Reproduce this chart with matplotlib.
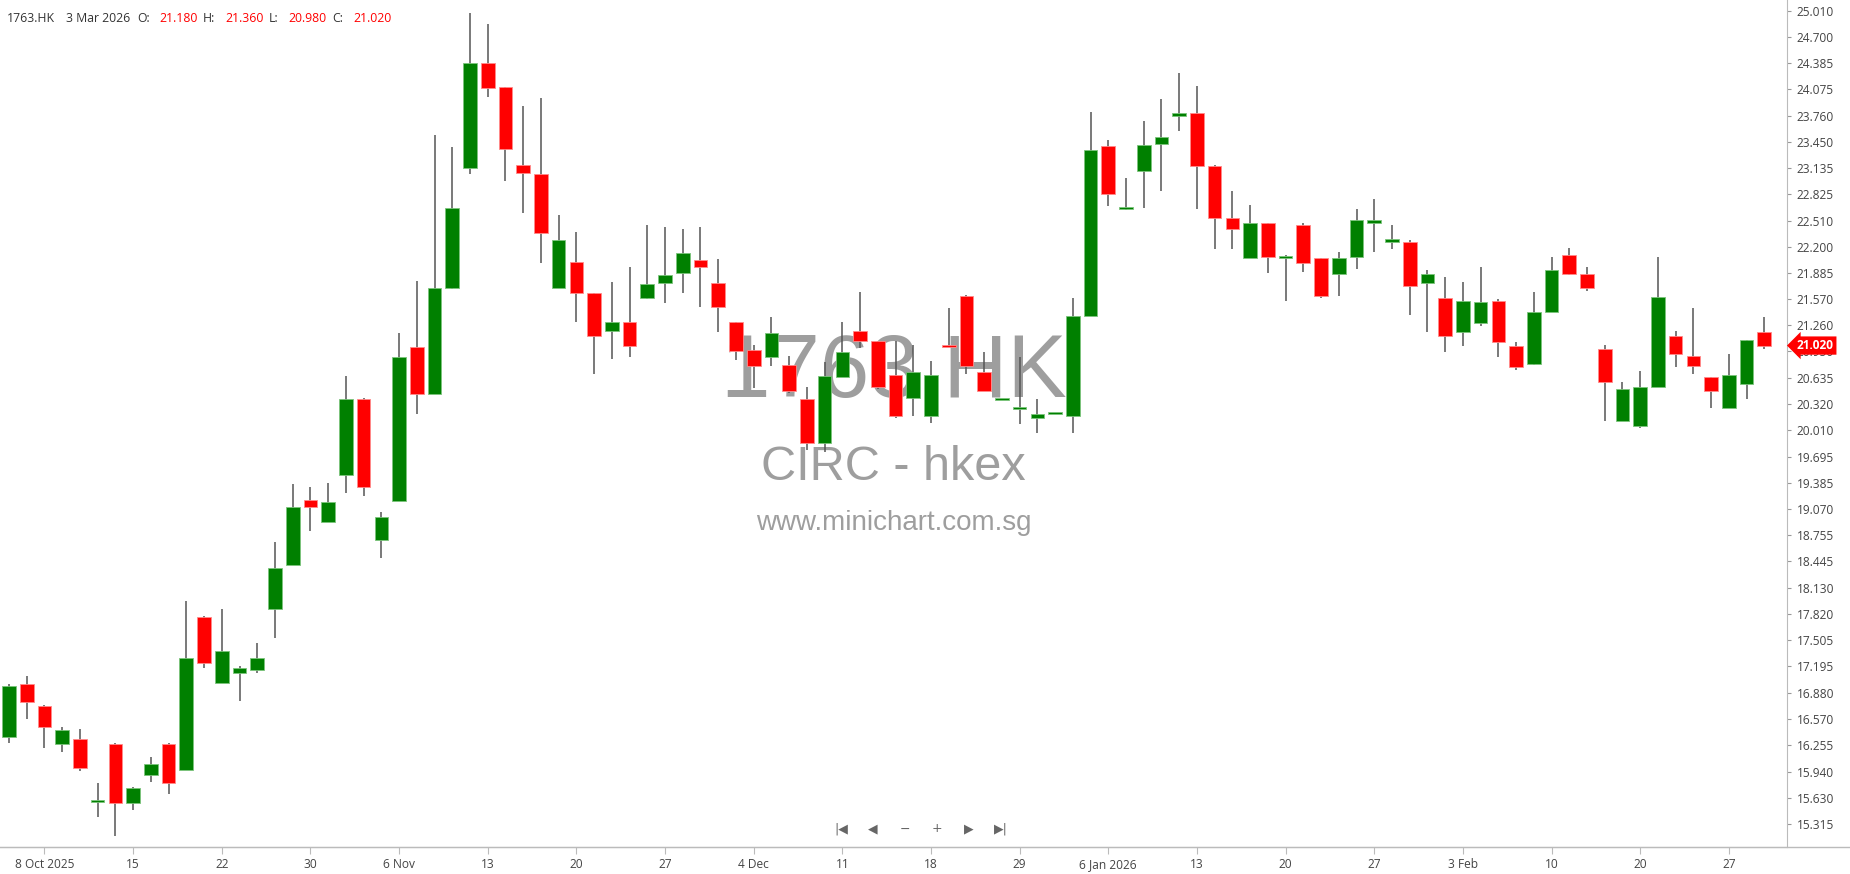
import matplotlib
matplotlib.use("Agg")
import matplotlib.pyplot as plt
from matplotlib.lines import Line2D

# Daily candles for 1763.HK, 3 Oct 2025 - 3 Mar 2026 (index = trading day)
OPEN = [16.355, 16.980, 16.725, 16.264, 16.324, 15.576, 16.264, 15.568, 15.898, 16.264,
        15.958, 17.783, 16.996, 17.119, 17.151, 17.878, 18.399, 19.178, 18.919, 19.473,
        20.379, 18.701, 19.170, 21.003, 20.439, 21.703, 23.134, 24.386, 24.100, 23.177,
        23.069, 21.706, 22.013, 21.643, 21.197, 21.297, 21.584, 21.762, 21.882, 22.040,
        21.770, 21.297, 20.967, 20.887, 20.788, 20.379, 19.861, 20.649, 21.193, 21.078,
        20.669, 20.398, 20.183, 21.009, 21.611, 20.701, 20.370, 20.260, 20.156, 20.200,
        20.183, 21.376, 23.400, 22.645, 23.105, 23.420, 23.761, 23.797, 23.161, 22.538,
        22.061, 22.478, 22.064, 22.458, 22.061, 21.870, 22.072, 22.485, 22.259, 22.251,
        21.762, 21.584, 21.178, 21.285, 21.551, 21.015, 20.796, 21.424, 22.100, 21.873,
        20.975, 20.124, 20.064, 20.529, 21.134, 20.895, 20.641, 20.279, 20.558, 21.180]
HIGH = [16.980, 17.083, 16.730, 16.474, 16.443, 15.807, 16.276, 15.759, 16.117, 16.276,
        17.973, 17.795, 17.875, 17.202, 17.476, 18.674, 19.365, 19.330, 19.377, 20.657,
        20.390, 19.031, 21.166, 21.790, 23.531, 23.384, 24.982, 24.855, 24.100, 23.877,
        23.976, 22.577, 22.371, 21.650, 21.774, 21.953, 22.458, 22.430, 22.414, 22.430,
        22.056, 21.300, 21.027, 21.357, 20.895, 20.522, 20.820, 21.297, 21.655, 21.080,
        21.078, 21.027, 20.836, 21.464, 21.623, 20.940, 20.380, 20.880, 20.379, 20.210,
        21.583, 23.802, 23.471, 23.015, 23.698, 23.960, 24.267, 24.115, 23.170, 22.863,
        22.700, 22.480, 22.100, 22.478, 22.070, 22.132, 22.648, 22.768, 22.458, 22.279,
        21.921, 21.834, 21.774, 21.953, 21.575, 21.059, 21.655, 22.072, 22.180, 21.953,
        21.027, 20.582, 20.720, 22.072, 21.193, 21.464, 20.650, 20.916, 21.090, 21.360]
LOW = [16.276, 16.563, 16.217, 16.176, 15.946, 15.401, 15.174, 15.481, 15.818, 15.668,
       15.958, 17.171, 16.990, 16.784, 17.119, 17.529, 18.399, 18.812, 18.919, 19.258,
       19.229, 18.483, 19.170, 20.200, 20.439, 21.700, 23.062, 23.981, 22.982, 22.597,
       22.001, 21.706, 21.301, 20.677, 20.856, 20.887, 21.580, 21.524, 21.643, 21.483,
       21.185, 20.848, 20.510, 20.780, 20.450, 19.774, 19.754, 20.649, 20.987, 20.500,
       20.152, 20.183, 20.093, 21.000, 20.681, 20.480, 20.370, 20.084, 19.973, 20.200,
       19.973, 21.370, 22.688, 22.640, 22.657, 22.863, 23.582, 22.645, 22.168, 22.168,
       22.060, 21.882, 21.555, 21.901, 21.590, 21.615, 21.929, 22.132, 22.168, 21.384,
       21.185, 20.947, 21.018, 21.257, 20.887, 20.728, 20.790, 21.420, 21.860, 21.674,
       20.124, 20.120, 20.033, 20.520, 20.768, 20.681, 20.279, 20.270, 20.379, 20.980]
CLOSE = [16.963, 16.769, 16.474, 16.439, 15.978, 15.588, 15.568, 15.740, 16.026, 15.807,
         17.290, 17.238, 17.377, 17.171, 17.290, 18.363, 19.091, 19.098, 19.151, 20.379,
         19.333, 18.972, 20.880, 20.439, 21.703, 22.657, 24.386, 24.088, 23.360, 23.078,
         22.359, 22.279, 21.643, 21.138, 21.297, 21.018, 21.758, 21.861, 22.127, 21.960,
         21.483, 20.959, 20.780, 21.173, 20.482, 19.861, 20.657, 20.947, 21.078, 20.529,
         20.183, 20.701, 20.669, 21.000, 20.780, 20.482, 20.380, 20.270, 20.200, 20.210,
         21.372, 23.352, 22.824, 22.669, 23.412, 23.504, 23.790, 23.165, 22.538, 22.406,
         22.478, 22.076, 22.076, 22.001, 21.615, 22.068, 22.517, 22.517, 22.279, 21.734,
         21.873, 21.138, 21.551, 21.536, 21.066, 20.768, 21.416, 21.921, 21.870, 21.703,
         20.589, 20.498, 20.522, 21.595, 20.916, 20.780, 20.482, 20.669, 21.086, 21.020]

# date axis labels (position = trading-day index)
DATE_TICKS = [2, 7, 12, 17, 22, 27, 32, 37, 42, 47, 52, 57, 62, 67, 72, 77, 82, 87, 92, 97]
DATE_LABELS = ["8 Oct 2025", "15", "22", "30", "6 Nov", "13", "20", "27", "4 Dec", "11",
               "18", "29", "6 Jan 2026", "13", "20", "27", "3 Feb", "10", "20", "27"]

PRICE_TICKS = [25.010, 24.700, 24.385, 24.075, 23.760, 23.450, 23.135, 22.825, 22.510,
               22.200, 21.885, 21.570, 21.260, 20.950, 20.635, 20.320, 20.010, 19.695,
               19.385, 19.070, 18.755, 18.445, 18.130, 17.820, 17.505, 17.195, 16.880,
               16.570, 16.255, 15.940, 15.630, 15.315]

SYMBOL = "1763.HK"
LAST_DATE = "3 Mar 2026"

W, H = 1850, 874
UP, DOWN = "#008000", "#ff0000"
UI_FONT = ["Open Sans", "DejaVu Sans"]
WM_FONT = ["Liberation Sans", "DejaVu Sans"]


def fig_xy(px, py):
    # pixel position (from top-left) -> figure fraction
    return px / W, 1 - py / H


def draw_candles(ax):
    n = len(OPEN)
    for i in range(n):
        o, h, l, c = OPEN[i], HIGH[i], LOW[i], CLOSE[i]
        up = c >= o
        ax.vlines(i, l, h, color="#555555", linewidth=1.1, zorder=2)
        bottom = min(o, c)
        height = max(abs(c - o), 0.03)
        ax.bar(i, height, bottom=bottom, width=0.77,
               color=UP if up else DOWN,
               edgecolor="#7cc47c" if up else "#ff8a8a",
               linewidth=0.6, zorder=3)


def main():
    fig = plt.figure(figsize=(W / 100, H / 100), dpi=100)
    ax = fig.add_axes([0, 27 / H, 1787 / W, 847 / H])

    draw_candles(ax)

    ax.set_xlim(-0.508, 100.28)
    ax.set_ylim(15.04, 25.141)

    # price axis on the right
    ax.yaxis.tick_right()
    ax.set_yticks(PRICE_TICKS)
    ax.set_yticklabels([f"{v:.3f}" for v in PRICE_TICKS])
    ax.tick_params(axis="y", length=3, width=0.8, color="#999999", pad=4,
                   labelsize=8.6, labelcolor="#444444")
    for lab in ax.get_yticklabels():
        lab.set_family(UI_FONT)

    ax.set_xticks(DATE_TICKS)
    ax.set_xticklabels(DATE_LABELS)
    ax.tick_params(axis="x", length=5, width=0.8, color="#bbbbbb", pad=3,
                   labelsize=8.6, labelcolor="#444444")
    for lab in ax.get_xticklabels():
        lab.set_family(UI_FONT)

    for side in ["top", "left"]:
        ax.spines[side].set_visible(False)
    ax.spines["right"].set_color("#bbbbbb")
    ax.spines["bottom"].set_color("#bbbbbb")
    # axis line continues under the price scale
    fig.add_artist(Line2D([0, 1], [27 / H, 27 / H], color="#bbbbbb", linewidth=1.0))

    # watermark
    wm = dict(transform=ax.transAxes, ha="center", color="#9e9e9e", zorder=1, family=WM_FONT)
    ax.text(0.5, 1 - 397 / 847, SYMBOL.replace(".", " "), fontsize=64, va="baseline", **wm)
    ax.text(0.5, 1 - 480 / 847, "CIRC - hkex", fontsize=35, va="baseline", **wm)
    ax.text(0.5, 1 - 530 / 847, "www.minichart.com.sg", fontsize=20, va="baseline", **wm)

    # last price tag
    ax.text(1.0055, CLOSE[-1], f"{CLOSE[-1]:.3f}", transform=ax.get_yaxis_transform(),
            ha="left", va="center", color="white", fontsize=8.6, fontweight="bold",
            family=UI_FONT, zorder=10, clip_on=False,
            bbox=dict(boxstyle="larrow,pad=0.22", fc=DOWN, ec="none"))

    # OHLC header
    header = [(7, SYMBOL, "#333333"), (66, LAST_DATE, "#333333"),
              (137, "O:", "#333333"), (159, f"{OPEN[-1]:.3f}", DOWN),
              (203, "H:", "#333333"), (225, f"{HIGH[-1]:.3f}", DOWN),
              (269, "L:", "#333333"), (288, f"{LOW[-1]:.3f}", DOWN),
              (332, "C:", "#333333"), (353, f"{CLOSE[-1]:.3f}", DOWN)]
    for px, s, col in header:
        x, y = fig_xy(px, 19)
        fig.text(x, y, s, color=col, fontsize=8.8, family=UI_FONT, ha="left", va="center")

    # navigation buttons
    nav = ["|◀", "◀", "−", "+", "▶", "▶|"]
    for k, s in enumerate(nav):
        x, y = fig_xy(841 + k * 32, 829)
        fig.text(x, y, s, color="#666666", fontsize=9, family=["DejaVu Sans"],
                 ha="center", va="center")

    fig.savefig("out.png", dpi=100)
    plt.close(fig)


if __name__ == "__main__":
    main()
